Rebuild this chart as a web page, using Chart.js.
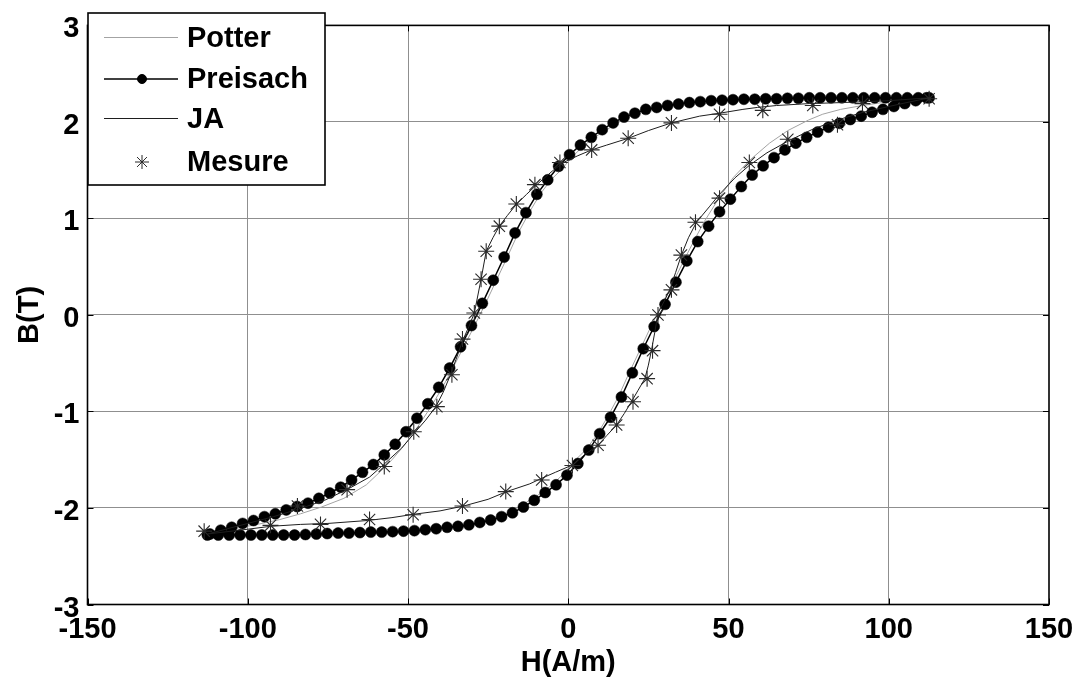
<!DOCTYPE html>
<html>
<head>
<meta charset="utf-8">
<title>B(H) hysteresis</title>
<script src="https://cdn.jsdelivr.net/npm/chart.js@4.4.1/dist/chart.umd.min.js"></script>
<style>
  html, body { margin: 0; padding: 0; background: #fff; }
  #wrap { width: 1085px; height: 681px; }
</style>
</head>
<body>
<div id="wrap"><canvas id="chart" width="1085" height="681"></canvas></div>
<script>
const xTicks = [-150, -100, -50, 0, 50, 100, 150];
const yTicks = [-3, -2, -1, 0, 1, 2, 3];
const xTitle = 'H(A/m)';
const yTitle = 'B(T)';
const seriesNames = ['Potter', 'Preisach', 'JA', 'Mesure'];

// Potter: descending branch then ascending branch
const potterH = [
    112.6, 95, 80, 65, 55, 45, 35, 28, 22, 16, 10, 5, 1, -2, -5.4, -8.8, -12.2, -15.6, -19, -22.4,
    -25.8, -29.2, -32.6, -36, -39.4, -42.8, -46.2, -49.5, -52.4, -55, -57.6, -63, -70, -77, -83.5, -90, -97, -105, -112.6,
    -90, -70, -55, -45, -35, -28, -22, -16, -10, -5, -1, 2, 5.4, 8.8, 12.2, 15.6, 19, 22.4, 25.8,
    29.2, 32.6, 36, 39.4, 42.5, 47.2, 51.4, 56.5, 62.8, 68.5, 75, 79.4, 85, 91.8, 100, 112.6,
];
const potterB = [
    2.25, 2.25, 2.245, 2.24, 2.235, 2.22, 2.19, 2.15, 2.10, 2.00, 1.88, 1.76, 1.63, 1.51, 1.40, 1.25, 1.06, 0.85, 0.60, 0.36,
    0.12, -0.11, -0.33, -0.55, -0.76, -0.95, -1.12, -1.28, -1.40, -1.50, -1.59, -1.76, -1.90, -1.99, -2.06, -2.12, -2.17, -2.22, -2.27,
    -2.28, -2.27, -2.255, -2.235, -2.20, -2.16, -2.11, -2.00, -1.88, -1.76, -1.63, -1.51, -1.40, -1.25, -1.06, -0.85, -0.60, -0.36, -0.12,
    0.11, 0.33, 0.56, 0.78, 0.97, 1.22, 1.42, 1.60, 1.78, 1.91, 2.02, 2.08, 2.13, 2.17, 2.21, 2.25,
];

// Preisach: one marker per H step
const preisachH = [
    112.6, 109.2, 105.8, 102.4, 99.0, 95.6, 92.2, 88.8, 85.4, 82.0, 78.6, 75.2, 71.8, 68.4, 65.0, 61.6, 58.2,
    54.8, 51.4, 48.0, 44.6, 41.2, 37.8, 34.4, 31.0, 27.6, 24.2, 20.8, 17.4, 14.0, 10.6, 7.2, 3.8, 0.4,
    -3.0, -6.4, -9.8, -13.2, -16.6, -20.0, -23.4, -26.8, -30.2, -33.6, -37.0, -40.4, -43.8, -47.2, -50.6, -54.0,
    -57.4, -60.8, -64.2, -67.6, -71.0, -74.4, -77.8, -81.2, -84.6, -88.0, -91.4, -94.8, -98.2, -101.6, -105.0, -108.4, -111.8,
    -112.6, -109.2, -105.8, -102.4, -99.0, -95.6, -92.2, -88.8, -85.4, -82.0, -78.6, -75.2, -71.8, -68.4, -65.0, -61.6, -58.2,
    -54.8, -51.4, -48.0, -44.6, -41.2, -37.8, -34.4, -31.0, -27.6, -24.2, -20.8, -17.4, -14.0, -10.6, -7.2, -3.8, -0.4,
    3.0, 6.4, 9.8, 13.2, 16.6, 20.0, 23.4, 26.8, 30.2, 33.6, 37.0, 40.4, 43.8, 47.2, 50.6, 54.0,
    57.4, 60.8, 64.2, 67.6, 71.0, 74.4, 77.8, 81.2, 84.6, 88.0, 91.4, 94.8, 98.2, 101.6, 105.0, 108.4, 111.8,
];
const preisachB = [
    2.25, 2.25, 2.25, 2.25, 2.25, 2.25, 2.25, 2.25, 2.25, 2.25, 2.25, 2.25, 2.245, 2.245, 2.24, 2.24, 2.235,
    2.235, 2.23, 2.225, 2.22, 2.21, 2.20, 2.185, 2.17, 2.15, 2.13, 2.09, 2.05, 1.99, 1.92, 1.84, 1.76, 1.66,
    1.54, 1.40, 1.25, 1.06, 0.85, 0.60, 0.36, 0.12, -0.11, -0.33, -0.55, -0.75, -0.92, -1.07, -1.21, -1.34,
    -1.45, -1.55, -1.63, -1.71, -1.785, -1.845, -1.90, -1.95, -1.985, -2.02, -2.06, -2.09, -2.13, -2.16, -2.20, -2.23, -2.27,
    -2.28, -2.28, -2.28, -2.28, -2.28, -2.28, -2.28, -2.28, -2.28, -2.275, -2.27, -2.265, -2.26, -2.26, -2.255, -2.25, -2.25,
    -2.245, -2.24, -2.235, -2.225, -2.215, -2.20, -2.19, -2.175, -2.15, -2.125, -2.09, -2.05, -1.99, -1.92, -1.84, -1.76, -1.66,
    -1.54, -1.40, -1.23, -1.06, -0.85, -0.60, -0.35, -0.12, 0.11, 0.34, 0.56, 0.76, 0.92, 1.07, 1.20, 1.33,
    1.45, 1.545, 1.63, 1.71, 1.78, 1.84, 1.895, 1.945, 1.985, 2.025, 2.06, 2.10, 2.13, 2.16, 2.19, 2.22, 2.25,
];

// JA
const jaH = [
    112.6, 100, 92.9, 85, 75.2, 65, 59, 54.5, 47.2, 41, 32.2, 25, 18.7, 12, 7.3, 3, -1.5, -5, -9.8, -13,
    -16.1, -19, -21.5, -23.5, -25.6, -27.2, -29.3, -31, -33, -35, -37, -39, -41.3, -44.5, -47.9, -52, -57.6, -62,
    -68.5, -76, -84, -92, -100, -112.6,
    -100, -92.9, -83.5, -75, -62.7, -55, -48.2, -40, -32.7, -25, -19.2, -12, -8.8, -4, 1.6, 5, 9.3, 12, 15.1,
    17.5, 19.7, 21.8, 23.9, 25, 26, 27, 28, 29.9, 31.7, 33.5, 35.3, 37.5, 40, 44, 47.2, 52, 56.5, 62, 68.5,
    76, 84, 92, 100, 112.6,
];
const jaB = [
    2.25, 2.22, 2.21, 2.20, 2.19, 2.17, 2.15, 2.13, 2.09, 2.06, 1.99, 1.91, 1.83, 1.76, 1.71, 1.65, 1.58, 1.49, 1.35, 1.25,
    1.15, 1.03, 0.92, 0.80, 0.66, 0.37, 0.02, -0.12, -0.27, -0.46, -0.64, -0.80, -0.95, -1.09, -1.22, -1.38, -1.55, -1.68,
    -1.80, -1.92, -2.01, -2.09, -2.16, -2.27,
    -2.22, -2.19, -2.17, -2.16, -2.13, -2.10, -2.065, -2.03, -1.98, -1.91, -1.83, -1.75, -1.70, -1.63, -1.55, -1.45, -1.35, -1.25, -1.14,
    -1.02, -0.90, -0.78, -0.66, -0.52, -0.36, -0.18, 0.02, 0.14, 0.26, 0.44, 0.62, 0.80, 0.96, 1.12, 1.25, 1.42, 1.55, 1.68, 1.80,
    1.92, 2.02, 2.10, 2.16, 2.25,
];

// Mesure (measured points, markers only)
const mesureH = [
    112.6, 91.8, 76.3, 60.7, 47.2, 32.2, 18.7, 7.3, -2.6, -10.4, -16.2, -21.5, -25.6, -27.2, -29.3, -33, -36.3, -41,
    -48.2, -57.4, -69, -84.5, -113.6,
    -92.9, -77.3, -62, -48.4, -33, -19.5, -8.3, 1.3, 9.3, 15.1, 20.2, 24.6, 26.3, 28, 32.2, 35.3, 39.7, 47.2, 56.5, 68.5, 84,
];
const mesureB = [
    2.24, 2.19, 2.17, 2.12, 2.08, 1.99, 1.83, 1.71, 1.58, 1.35, 1.15, 0.92, 0.66, 0.37, 0.02, -0.25, -0.62, -0.95,
    -1.21, -1.57, -1.81, -1.98, -2.24,
    -2.18, -2.17, -2.12, -2.07, -1.98, -1.83, -1.71, -1.56, -1.35, -1.14, -0.90, -0.66, -0.37, 0.0, 0.26, 0.62, 0.96, 1.21, 1.58, 1.82, 1.97,
];

const FONT = '"Liberation Sans", Arial, Helvetica, sans-serif';

function pairs(hs, bs) {
    return hs.map((h, i) => ({ x: h, y: bs[i] }));
}

const styles = {
    Potter: { color: '#a3a3a3', width: 1, point: null },
    Preisach: { color: '#000000', width: 1.5, point: 'circle' },
    JA: { color: '#1e1e1e', width: 1, point: null },
    Mesure: { color: '#2a2a2a', width: 0, point: 'star' },
};

// black box + inward tick marks, like the original figure
const axesBox = {
    id: 'axesBox',
    afterDatasetsDraw(chart) {
        const { ctx, chartArea: a, scales: { x, y } } = chart;
        ctx.save();
        ctx.strokeStyle = '#000';
        ctx.lineWidth = 1;
        ctx.beginPath();
        xTicks.forEach((v) => {
            const px = Math.round(x.getPixelForValue(v)) + 0.5;
            ctx.moveTo(px, a.bottom); ctx.lineTo(px, a.bottom - 6);
            ctx.moveTo(px, a.top); ctx.lineTo(px, a.top + 6);
        });
        yTicks.forEach((v) => {
            const py = Math.round(y.getPixelForValue(v)) + 0.5;
            ctx.moveTo(a.left, py); ctx.lineTo(a.left + 6, py);
            ctx.moveTo(a.right, py); ctx.lineTo(a.right - 6, py);
        });
        ctx.stroke();
        ctx.lineWidth = 1.6;
        ctx.strokeRect(a.left, a.top, a.right - a.left, a.bottom - a.top);
        ctx.restore();
    },
};

const boxLegend = {
    id: 'boxLegend',
    afterDraw(chart) {
        const ctx = chart.ctx;
        const left = 88, top = 13, w = 237, h = 172;
        const rows = [37.5, 79, 118.5, 162];
        ctx.save();
        ctx.fillStyle = '#fff';
        ctx.fillRect(left, top, w, h);
        ctx.strokeStyle = '#000';
        ctx.lineWidth = 1.6;
        ctx.strokeRect(left, top, w, h);

        seriesNames.forEach((name, i) => {
            const s = styles[name];
            const yy = rows[i];
            if (s.width > 0) {
                ctx.strokeStyle = s.color;
                ctx.lineWidth = s.width;
                ctx.beginPath();
                ctx.moveTo(104, yy);
                ctx.lineTo(178, yy);
                ctx.stroke();
            }
            if (s.point) {
                ctx.fillStyle = s.color;
                ctx.strokeStyle = s.color;
                ctx.lineWidth = 1;
                Chart.helpers.drawPoint(ctx, {
                    pointStyle: s.point,
                    radius: s.point === 'star' ? 7 : 4.5,
                    rotation: 0,
                    borderWidth: 1,
                }, 142, yy);
            }
            ctx.fillStyle = '#000';
            ctx.font = 'bold 29px ' + FONT;
            ctx.textAlign = 'left';
            ctx.textBaseline = 'middle';
            ctx.fillText(name, 187, yy + 1);
        });
        ctx.restore();
    },
};

const datasets = [
    {
        label: 'Potter',
        data: pairs(potterH, potterB),
        showLine: true,
        borderColor: styles.Potter.color,
        borderWidth: styles.Potter.width,
        pointRadius: 0,
        order: 4,
    },
    {
        label: 'Preisach',
        data: pairs(preisachH, preisachB),
        showLine: true,
        borderColor: styles.Preisach.color,
        borderWidth: styles.Preisach.width,
        pointRadius: 5.5,
        pointStyle: 'circle',
        pointBackgroundColor: '#000',
        pointBorderColor: '#000',
        pointBorderWidth: 0.5,
        order: 3,
    },
    {
        label: 'JA',
        data: pairs(jaH, jaB),
        showLine: true,
        borderColor: styles.JA.color,
        borderWidth: styles.JA.width,
        pointRadius: 0,
        order: 2,
    },
    {
        label: 'Mesure',
        data: pairs(mesureH, mesureB),
        showLine: false,
        pointStyle: 'star',
        pointRadius: 8,
        pointBorderColor: styles.Mesure.color,
        pointBorderWidth: 1.1,
        order: 1,
    },
];

const tickFont = { family: FONT, size: 29, weight: 'bold' };

new Chart(document.getElementById('chart'), {
    type: 'scatter',
    data: { datasets },
    plugins: [axesBox, boxLegend],
    options: {
        responsive: false,
        animation: false,
        devicePixelRatio: 1,
        layout: { padding: { top: 19.5, right: 36, bottom: 0, left: 0 } },
        elements: { line: { tension: 0, fill: false } },
        plugins: {
            legend: { display: false },
            tooltip: { enabled: false },
        },
        scales: {
            x: {
                type: 'linear',
                min: -150,
                max: 150,
                afterBuildTicks: (s) => { s.ticks = xTicks.map((v) => ({ value: v })); },
                afterFit: (s) => { s.height = 76.5; },
                ticks: {
                    autoSkip: false,
                    maxRotation: 0,
                    padding: 8,
                    color: '#000',
                    font: tickFont,
                    callback: (v) => String(v),
                },
                grid: {
                    drawTicks: false,
                    color: (c) => (c.tick && Math.abs(c.tick.value) === 150 ? 'rgba(0,0,0,0)' : '#8f8f8f'),
                    lineWidth: 1,
                },
                border: { display: false },
                title: {
                    display: true,
                    text: xTitle,
                    color: '#000',
                    font: tickFont,
                    padding: { top: 0, bottom: 1 },
                },
            },
            y: {
                type: 'linear',
                min: -3,
                max: 3,
                afterBuildTicks: (s) => { s.ticks = yTicks.map((v) => ({ value: v })); },
                afterFit: (s) => { s.width = 87.5; },
                ticks: {
                    autoSkip: false,
                    padding: 8,
                    labelOffset: 4,
                    color: '#000',
                    font: tickFont,
                    callback: (v) => String(v),
                },
                grid: {
                    drawTicks: false,
                    color: (c) => (c.tick && Math.abs(c.tick.value) === 3 ? 'rgba(0,0,0,0)' : '#8f8f8f'),
                    lineWidth: 1,
                },
                border: { display: false },
                title: {
                    display: true,
                    text: yTitle,
                    color: '#000',
                    font: tickFont,
                    padding: { top: 12.6, bottom: 0 },
                },
            },
        },
    },
});
</script>
</body>
</html>
